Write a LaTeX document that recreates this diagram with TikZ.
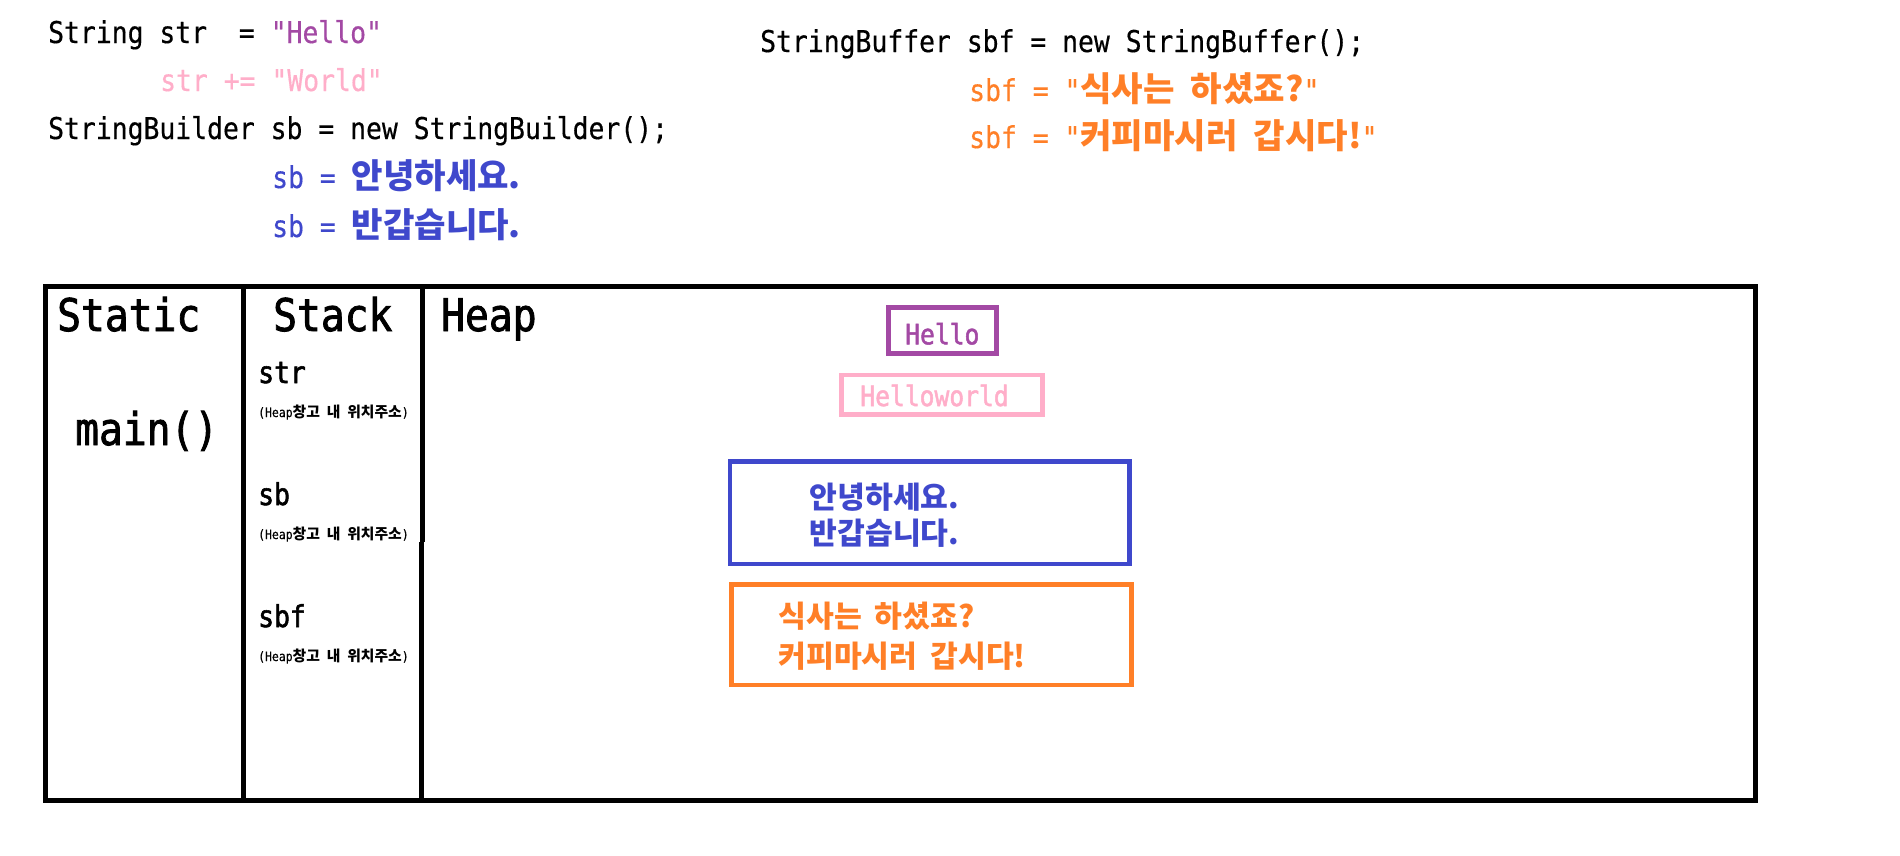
\documentclass[tikz,border=0pt]{standalone}
\usepackage{fontspec}
\usepackage{tikz}
\usetikzlibrary{positioning}
\newfontfamily\codefont[FakeStretch=0.88, FakeBold=0.4]{DejaVu Sans Mono}
\newfontfamily\areafont[FakeStretch=0.88, FakeBold=1.8]{DejaVu Sans Mono}
\newfontfamily\kofont[Scale=1.14]{Noto Sans CJK KR}
\newcommand{\ko}[1]{{\kofont\bfseries #1}}
\definecolor{strpurple}{HTML}{A349A4}
\definecolor{strpink}{HTML}{FFAEC9}
\definecolor{sbblue}{HTML}{3F48CC}
\definecolor{sbforange}{HTML}{FF7F27}
\tikzstyle{code} =
[anchor=base west, inner sep=0pt, font=\codefont\fontsize{30}{36}\selectfont]
\tikzstyle{area} =
[anchor=base west, inner sep=0pt, font=\areafont\fontsize{45}{54}\selectfont]
\tikzstyle{var} =
[anchor=base west, inner sep=0pt, font=\areafont\fontsize{30}{36}\selectfont]
\tikzstyle{addr} =
[anchor=base west, inner sep=0pt, font=\codefont\fontsize{13}{16}\selectfont]
\tikzstyle{heapbox} =
[rectangle, line width=4.7pt, inner sep=0pt]
\tikzstyle{heapword} =
[anchor=base, inner sep=0pt, font=\areafont\fontsize{28}{34}\selectfont]
\tikzstyle{heaptext} =
[anchor=west, inner sep=0pt, align=left]
\tikzstyle{wall} = [draw, line width=5pt]

\begin{document}
\begin{tikzpicture}[x=1pt, y=-1pt]
  \useasboundingbox (0,0) rectangle (1900,855);
  % code lines, left
  \node [code] (strdecl) at (48,43) {String str~~= \textcolor{strpurple}{"Hello"}};
  \node [code, text=strpink] (strappend) at (160,91) {str += "World"};
  \node [code] (sbdecl) at (48,139) {StringBuilder sb = new StringBuilder();};
  \node [code, text=sbblue] (sbhello) at (272,188) {sb = \ko{안녕하세요.}};
  \node [code, text=sbblue] (sbnice) at (272,237) {sb = \ko{반갑습니다.}};
  % code lines, right
  \node [code] (sbfdecl) at (760,52) {StringBuffer sbf = new StringBuffer();};
  \node [code, text=sbforange] (sbfmeal) at (969,101)
   {sbf = "\ko{식사는}~\ko{하셨죠?}"};
  \node [code, text=sbforange] (sbfcoffee) at (969,148)
   {sbf = "\ko{커피마시러}~\ko{갑시다!}"};
  %
  % memory table
  \draw [line width=5pt] (45.5,286.5) rectangle (1755,800);
  \path [wall] (243,286.5) -- (243,800);
  \path [wall] (422,286.5) -- (422,542);
  \path [wall] (421,542) -- (421,800);
  \node [area] (staticlbl) at (57,331) {Static};
  \node [area] (stacklbl) at (273,331) {Stack};
  \node [area] (heaplbl) at (441,331) {Heap};
  \node [area] (mainlbl) at (75,445) {main()};
  %
  % stack variables
  \node [var] (strvar) at (258,383) {str};
  \node [addr] (straddr) at (258,417) {(Heap\ko{창고}~\ko{내}~\ko{위치주소})};
  \node [var] (sbvar) at (258,505) {sb};
  \node [addr] (sbaddr) at (258,539) {(Heap\ko{창고}~\ko{내}~\ko{위치주소})};
  \node [var] (sbfvar) at (258,627) {sbf};
  \node [addr] (sbfaddr) at (258,661) {(Heap\ko{창고}~\ko{내}~\ko{위치주소})};
  %
  % heap objects
  \node [heapbox, draw=strpurple, minimum width=108pt, minimum height=46pt]
   (hellobox) at (942.3,330.3) {};
  \node [heapword, text=strpurple] (hellotext)
   at ([yshift=-14pt]hellobox.center) {Hello};
  \node [heapbox, draw=strpink, minimum width=200.6pt, minimum height=39.3pt]
   (worldbox) at (942,394.7) {};
  \node [heapword, text=strpink] (worldtext)
   at ([xshift=-7.5pt, yshift=-11.3pt]worldbox.center) {Helloworld};
  \node [heapbox, draw=sbblue, minimum width=399.5pt, minimum height=102.3pt]
   (sbbox) at (929.6,512.9) {};
  \node [heaptext, text=sbblue, font=\kofont\bfseries\fontsize{26.5}{36}\selectfont]
   (sbtext) at ([xshift=82pt, yshift=-2pt]sbbox.west)
   {안녕하세요.\\반갑습니다.};
  \node [heapbox, draw=sbforange, minimum width=399.6pt, minimum height=100.7pt]
   (sbfbox) at (931.5,634.7) {};
  \node [heaptext, text=sbforange, font=\kofont\bfseries\fontsize{26.5}{40}\selectfont]
   (sbftext) at ([xshift=49pt, yshift=-2pt]sbfbox.west)
   {식사는\hspace{13pt}하셨죠?\\커피마시러\hspace{13pt}갑시다!};
\end{tikzpicture}
\end{document}
